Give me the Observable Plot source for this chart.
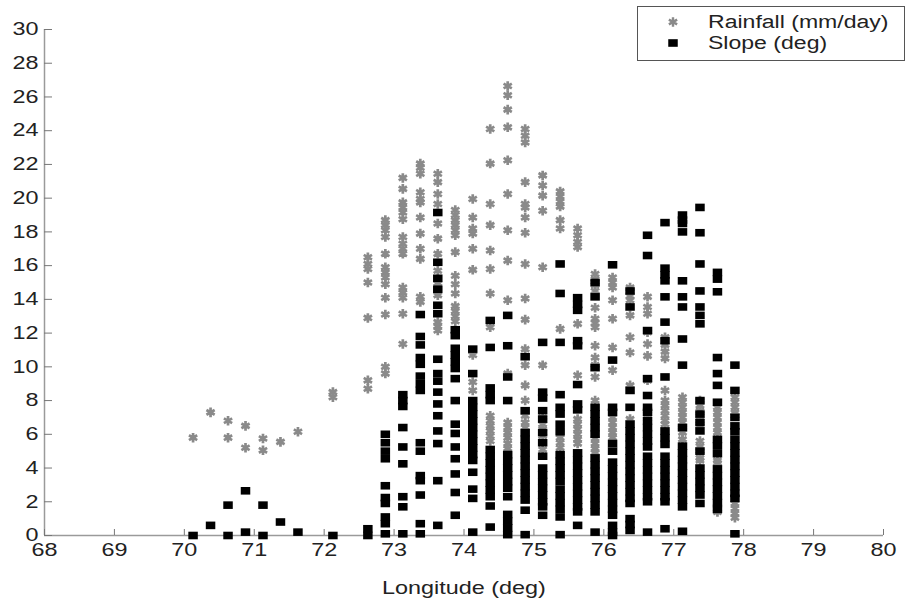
<!DOCTYPE html>
<html><head><meta charset="utf-8">
<script src="https://cdn.jsdelivr.net/npm/d3@7"></script>
<script src="https://cdn.jsdelivr.net/npm/@observablehq/plot@0.6"></script>
<style>
body{margin:0;background:#fff;}
#wrap{position:relative;width:909px;height:602px;font-family:"Liberation Sans",Arial,Helvetica,sans-serif;color:#222;}
#legend{position:absolute;left:637px;top:6px;width:268px;height:55px;border:1px solid #555;background:#fff;box-sizing:border-box;font-size:18px;}
#legend .row{position:absolute;left:0;height:20px;display:flex;align-items:center;white-space:nowrap;}
#legend svg{margin-left:25px;margin-right:25px;flex:none;}
#legend span{display:inline-block;transform:scaleX(1.28);transform-origin:left center;}
</style></head><body>
<div id="wrap"><div id="chart"></div>
<div id="legend">
  <div class="row" style="top:5px"><svg width="20" height="20" id="lgStar"></svg><span>Rainfall (mm/day)</span></div>
  <div class="row" style="top:26px"><svg width="20" height="20" id="lgSq"></svg><span>Slope (deg)</span></div>
</div>
</div>
<script>
// Longitude columns (deg)
const longitudes = [70.125,70.375,70.625,70.875,71.125,71.375,71.625,72.125,72.625,72.875,73.125,73.375,73.625,73.875,74.125,74.375,74.625,74.875,75.125,75.375,75.625,75.875,76.125,76.375,76.625,76.875,77.125,77.375,77.625,77.875];

// Rainfall (mm/day) per column
const rainfall = [
  [5.8],
  [7.3],
  [6.8,5.8],
  [6.5,5.2],
  [5.75,5.05],
  [5.55],
  [6.15],
  [8.5,8.2],
  [16.5,16.1,15.8,15.0,12.9,9.2,8.7],
  [18.7,18.4,18.1,17.7,16.7,15.9,15.6,15.3,14.9,14.1,13.1,10.0,9.6],
  [21.2,20.55,19.75,19.45,19.15,18.75,17.7,17.3,17.0,16.7,14.7,14.4,14.1,13.15,11.35],
  [22.05,21.8,21.45,20.35,19.95,19.75,18.85,17.9,17.0,16.4,14.15,13.85],
  [21.45,20.95,20.25,19.65,18.5,17.6,16.7,15.7,14.95,14.25,12.65,12.4,12.15],
  [19.3,19.0,18.7,18.4,18.1,17.8,16.8,15.4,14.9,14.35,13.6,13.3,13.0,12.7],
  [19.95,18.85,18.2,17.9,17.0,15.75,10.7,9.1,8.6],
  [24.1,22.05,19.65,18.4,16.9,15.8,14.35,12.35,7.1,6.8,6.5,6.2,5.9,5.6],
  [26.65,26.1,25.25,24.2,22.25,20.25,18.1,16.3,13.95,9.6,6.7,6.4,6.1,5.8,5.45,5.15],
  [24.1,23.7,23.3,20.95,19.65,19.45,18.85,17.95,16.1,14.05,12.8,11.05,10.1,8.9,8.0,7.1,6.7,6.4],
  [21.35,20.75,20.15,19.25,15.9,10.1,7.0,6.6,6.3,5.9,5.1],
  [20.4,20.1,19.8,19.5,18.7,18.2,12.25,5.8,5.5,5.2],
  [18.2,17.8,17.4,17.1,12.55,9.5,6.9,6.6,6.3,6.0,5.7,5.45],
  [15.5,15.2,14.85,14.5,13.5,12.85,12.6,12.35,11.25,10.55,10.1,9.4,8.0,5.75,5.45,5.15,4.9],
  [15.3,15.0,14.7,13.95,12.85,11.15,9.8,7.0,6.7,6.4,6.1,5.8],
  [14.7,14.45,14.2,13.95,13.05,11.75,10.85,8.9,6.9],
  [14.15,13.55,13.15,12.05,11.35,10.65,9.2,7.5,7.2,6.9],
  [11.75,11.3,10.9,10.5,8.6,8.0,7.7,7.4,7.1,6.8,6.6],
  [8.2,7.9,7.6,7.3,7.0,6.7,6.4,6.1,5.7],
  [8.0,7.7,7.4,7.1,6.8,6.5,5.6,5.3,5.0,4.6,4.45],
  [7.6,7.3,7.0,6.7,6.4,6.1,4.45,4.3,1.75,1.4],
  [8.2,7.9,7.6,7.3,7.1,1.9,1.6,1.3,1.05]
];

// Slope (deg) per column
const slope = [
  [0],
  [0.6],
  [1.8,0],
  [2.65,0.2],
  [1.8,0],
  [0.8],
  [0.2],
  [0],
  [0.4,0],
  [6.0,5.5,5.0,4.55,2.95,2.25,1.9,1.1,0.7,0.1],
  [8.35,8.0,7.65,6.4,5.25,4.25,2.3,1.7,0.1],
  [13.1,11.8,11.3,10.55,10.15,9.45,9.0,8.6,5.5,5.0,3.55,3.25,2.4,0.7,0.1],
  [19.15,16.2,15.25,14.6,13.65,13.15,10.45,9.6,9.15,8.5,7.8,7.1,6.2,5.45,3.25,0.6],
  [12.2,11.85,11.1,10.7,10.3,9.9,9.3,8.0,6.6,6.05,5.25,4.55,3.65,2.55,1.2],
  [11.05,9.6,8.0,7.6,7.2,6.8,6.4,6.0,5.6,5.2,4.8,4.45,3.75,2.75,2.2,0.2],
  [12.75,11.15,8.75,8.35,8.0,5.1,4.7,4.3,3.9,3.5,3.1,2.7,2.3,1.75,0.5],
  [13.05,11.25,9.4,8.0,4.8,4.4,4.0,3.6,3.2,2.8,2.3,1.25,0.85,0.45,0.05],
  [10.6,7.4,6.1,5.7,5.3,4.9,4.5,4.1,3.7,3.3,2.9,2.5,2.1,1.5,0.05],
  [11.45,8.5,8.15,7.4,6.9,6.1,5.5,4.7,4.0,3.6,3.2,2.8,2.4,2.0,1.7,1.2],
  [16.1,14.35,11.45,8.35,7.6,7.2,6.6,6.15,4.8,4.4,4.0,3.6,3.2,2.75,2.35,1.95,1.55,1.1,0.05],
  [14.1,13.7,13.35,11.55,11.25,8.95,7.8,7.45,4.9,4.5,4.1,3.7,3.3,2.9,2.5,2.1,1.7,1.4,0.6],
  [15.0,14.15,9.95,7.6,7.2,6.8,6.4,6.0,4.6,4.2,3.8,3.4,3.0,2.6,2.2,1.8,1.4,0.2],
  [16.05,10.4,7.6,7.3,5.45,5.0,4.35,3.95,3.55,3.15,2.75,2.35,1.95,1.55,1.2,0.6,0.2,0.0],
  [14.5,13.55,8.6,7.6,6.6,6.2,5.8,5.4,5.0,4.6,4.2,3.8,3.4,3.0,2.6,2.2,1.9,1.0,0.65,0.3],
  [17.8,16.6,12.15,9.3,8.3,7.6,7.3,6.8,6.4,6.0,5.6,5.25,4.7,4.3,3.9,3.5,3.1,2.7,2.3,2.0,0.2],
  [18.55,15.85,15.45,15.1,14.15,12.65,11.55,9.4,6.2,5.8,5.4,4.7,4.3,3.9,3.5,3.1,2.7,2.3,2.0,0.4],
  [19.0,18.7,18.5,18.0,15.1,14.15,13.55,11.65,10.1,6.4,5.3,4.9,4.5,4.1,3.7,3.3,2.9,2.5,2.1,1.7,0.25],
  [19.45,17.95,16.1,14.5,13.55,13.05,12.55,8.0,7.2,6.7,6.2,5.0,4.0,3.6,3.2,2.8,2.4,1.9],
  [15.6,15.2,14.45,10.55,9.6,8.9,7.9,5.7,5.3,4.85,3.95,3.55,3.15,2.75,2.35,1.95,1.55],
  [10.1,8.6,7.0,6.5,6.15,5.7,5.3,4.9,4.5,4.1,3.7,3.3,2.9,2.5,2.2,0.1]
];

const xTicks = [68,69,70,71,72,73,74,75,76,77,78,79,80];
const yTicks = [0,2,4,6,8,10,12,14,16,18,20,22,24,26,28,30];
const xLabel = "Longitude (deg)";

const rainRows = longitudes.flatMap((lon, i) => rainfall[i].map(v => ({lon, v})));
const slopeRows = longitudes.flatMap((lon, i) => slope[i].map(v => ({lon, v})));

const SQ_W = 9.5, SQ_H = 7.6;
const rectSymbol = {draw(ctx) { ctx.rect(-SQ_W/2, -SQ_H/2, SQ_W, SQ_H); }};

const axisColor = "#9a9a9a";
const starColor = "#8a8a8a";

const chart = Plot.plot({
  width: 909,
  height: 602,
  marginLeft: 44,
  marginRight: 26,
  marginTop: 29,
  marginBottom: 67,
  style: {fontSize: "18px", fontFamily: "'Liberation Sans', Arial, Helvetica, sans-serif", color: "#222", background: "#fff"},
  x: {domain: [68, 80]},
  y: {domain: [0, 30]},
  marks: [
    Plot.ruleY([0], {stroke: axisColor, strokeWidth: 1.5}),
    Plot.ruleX([68], {stroke: axisColor, strokeWidth: 1.5}),
    Plot.axisX({ticks: xTicks, tickSize: -6, stroke: "#777", tickFormat: () => "", label: null}),
    Plot.axisX({ticks: xTicks, tickSize: 0, tickPadding: 8, tickFormat: d => String(d), label: xLabel, labelAnchor: "center", labelArrow: "none", labelOffset: 58, fill: "#222"}),
    Plot.axisY({ticks: yTicks, tickSize: -8, stroke: "#777", tickFormat: () => "", label: null}),
    Plot.axisY({ticks: yTicks, tickSize: 0, tickPadding: 6, tickFormat: d => String(d), label: null, fill: "#222"}),
    Plot.dot(rainRows, {x: "lon", y: "v", symbol: "asterisk", r: 4.5, stroke: starColor, strokeWidth: 2.7}),
    Plot.dot(slopeRows, {x: "lon", y: "v", symbol: rectSymbol, fill: "#000", stroke: "none"})
  ]
});
document.getElementById("chart").appendChild(chart);

// widen glyphs horizontally (the reference text is horizontally stretched)
d3.select(chart).selectAll("text").each(function() {
  const t = this.getAttribute("transform") || "";
  this.setAttribute("transform", t + " scale(1.3,1)");
});

// legend markers
d3.select("#lgStar").append("path").attr("transform", "translate(10,10)")
  .attr("d", d3.symbol(d3.symbolAsterisk, Math.PI * 4.5 * 4.5)())
  .attr("fill", "none").attr("stroke", starColor).attr("stroke-width", 2.4);
d3.select("#lgSq").append("rect").attr("x", 10 - SQ_W/2).attr("y", 10 - SQ_H/2)
  .attr("width", SQ_W).attr("height", SQ_H).attr("fill", "#000");
</script>
</body></html>
